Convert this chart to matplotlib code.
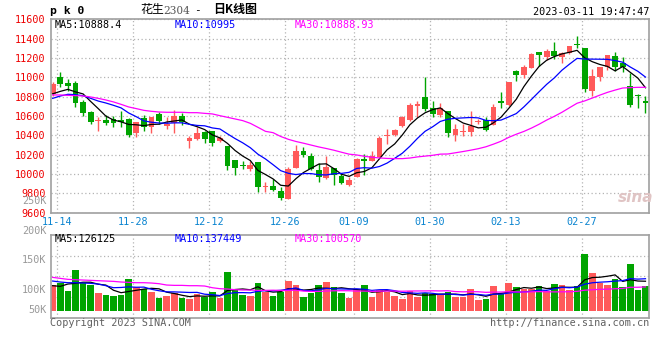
import numpy as np
import matplotlib
matplotlib.use('Agg')
import matplotlib.pyplot as plt

# daily bars, first = 11-14, last = 03-10
opens = [10828, 11007, 10942, 10942, 10749, 10642, 10549, 10563, 10566, 10560,
         10566, 10429, 10580, 10491, 10625, 10501, 10525, 10601, 10346, 10363,
         10439, 10446, 10339, 10291, 10146, 10091, 10050, 10125, 9864, 9877,
         9822, 9743, 10060, 10243, 10191, 10043, 9960, 10063, 9977, 9891,
         9967, 10153, 10139, 10181, 10391, 10408, 10501, 10560, 10708, 10801,
         10684, 10615, 10649, 10408, 10432, 10432, 10539, 10560, 10508, 10752,
         10718, 11062, 11028, 11097, 11259, 11207, 11269, 11214, 11252, 11345,
         11304, 10856, 11007, 11111, 11217, 11149, 10911, 10814, 10752]
highs = [10952, 11056, 10983, 10966, 10766, 10649, 10587, 10611, 10604, 10649,
         10580, 10542, 10608, 10594, 10642, 10587, 10663, 10628, 10398, 10484,
         10449, 10446, 10398, 10291, 10146, 10139, 10139, 10125, 9915, 9950,
         9870, 10070, 10301, 10277, 10215, 10112, 10191, 10063, 10002, 9967,
         10167, 10208, 10243, 10398, 10467, 10467, 10604, 10732, 10759, 11000,
         10752, 10732, 10649, 10518, 10518, 10649, 10570, 10587, 10725, 10845,
         10949, 11076, 11131, 11248, 11259, 11293, 11362, 11259, 11328, 11424,
         11304, 11087, 11111, 11235, 11266, 11207, 11049, 10828, 10811]
lows = [10811, 10897, 10856, 10690, 10604, 10518, 10449, 10508, 10484, 10491,
        10387, 10380, 10449, 10422, 10518, 10467, 10429, 10511, 10270, 10353,
        10318, 10294, 10329, 10046, 9995, 10053, 10036, 9812, 9812, 9829,
        9733, 9743, 10060, 10174, 10043, 9922, 9950, 9891, 9898, 9881,
        9967, 9995, 10132, 10181, 10311, 10398, 10484, 10553, 10587, 10656,
        10587, 10587, 10387, 10346, 10398, 10398, 10518, 10449, 10508, 10684,
        10708, 10966, 10994, 11097, 11121, 11180, 11190, 11145, 11242, 11304,
        10845, 10811, 10959, 11076, 11069, 11052, 10690, 10684, 10628]
closes = [10932, 10931, 10914, 10735, 10632, 10542, 10560, 10528, 10532, 10539,
          10408, 10542, 10484, 10594, 10553, 10518, 10597, 10535, 10373, 10429,
          10367, 10325, 10377, 10088, 10063, 10081, 10094, 9864, 9877, 9836,
          9753, 10053, 10243, 10198, 10053, 9967, 10070, 9995, 9908, 9943,
          10156, 10132, 10191, 10373, 10404, 10460, 10594, 10718, 10725, 10673,
          10622, 10684, 10422, 10467, 10446, 10501, 10553, 10456, 10697, 10739,
          10949, 11028, 11111, 11242, 11235, 11269, 11217, 11248, 11328, 11335,
          10880, 11018, 11104, 11228, 11104, 11104, 10718, 10804, 10732]
volume_k = [109.7, 119.7, 85.5, 173.9, 119.7, 109.7, 77.0, 67.0, 64.1, 67.0,
            135.4, 102.6, 92.6, 81.2, 55.6, 64.1, 74.1, 55.6, 51.3, 71.3,
            57.0, 81.2, 55.6, 166.7, 92.6, 68.4, 64.1, 119.7, 81.2, 64.1,
            78.4, 128.3, 109.7, 59.9, 77.0, 109.7, 124.0, 102.6, 77.0, 55.6,
            92.6, 109.7, 59.9, 88.4, 81.2, 64.1, 49.9, 84.1, 57.0, 77.0,
            71.3, 65.6, 81.2, 59.9, 59.9, 92.6, 45.6, 49.9, 105.5, 77.0,
            118.3, 101.2, 92.6, 91.2, 105.5, 82.7, 114.0, 109.7, 88.4, 105.5,
            242.3, 162.5, 116.9, 109.7, 134.0, 102.6, 199.5, 88.4, 105.5]

# moving averages at the left edge (they use days before the window)
ma5_head = [10830, 10855, 10876, 10850]
ma10_head = [10783, 10807, 10825, 10821, 10810, 10783, 10755, 10735, 10711]
ma30_head = [10818, 10818, 10814, 10811, 10808, 10797, 10783, 10766, 10746, 10721,
             10694, 10677, 10659, 10649, 10642, 10639, 10639, 10639, 10635, 10635,
             10628, 10622, 10604, 10587, 10570, 10553, 10525, 10484, 10442]
vma5_head = [106.9, 104.0, 114.0, 117.0]
vma10_head = [126.8, 122.6, 119.7, 119.7, 118.3, 116.9, 114.0, 106.9, 98.3]
vma30_head = [142.5, 138.2, 134.0, 132.5, 131.1, 129.7, 128.3, 126.8, 125.4, 122.6,
              121.1, 119.7, 119.7, 118.3, 115.4, 109.7, 108.3, 108.3, 106.9, 106.9,
              105.5, 98.3, 94.1, 92.6, 89.8, 88.4, 88.4, 86.9, 86.9]

date_labels = ['11-14', '11-28', '12-12', '12-26', '01-09', '01-30', '02-13', '02-27']
date_index = [0, 10, 20, 30, 39, 49, 59, 69]
price_ticks = [9600, 9800, 10000, 10200, 10400, 10600, 10800, 11000, 11200, 11400, 11600]
vol_labels = ['250K', '200K', '150K', '100K', '50K']


def moving_avg(vals, n, head):
    vals = np.asarray(vals, float)
    tail = np.convolve(vals, np.ones(n) / n, mode='valid')
    return np.concatenate([head, tail])


RED = '#ff5a5a'
GREEN = '#00a400'
GRID = '#b4b4b4'
MONO = 'DejaVu Sans Mono'
W, H = 660, 360

o = np.array(opens, float)
c = np.array(closes, float)
x = np.arange(len(c))
colors = np.where(c >= o, RED, GREEN)
vol = np.array(volume_k) * 1000

fig = plt.figure(figsize=(6.6, 3.6), dpi=100)
ax = fig.add_axes([50.7 / W, 1 - 213.3 / H, 598.6 / W, 194 / H])
axv = fig.add_axes([50.7 / W, 1 - 318 / H, 598.6 / W, 83.3 / H])

# candles
ax.vlines(x, lows, highs, colors=colors, lw=1)
ax.bar(x, np.maximum(np.abs(c - o), 9), bottom=np.minimum(o, c), width=0.75,
       color=colors, lw=0, zorder=2)
ax.plot(x, moving_avg(closes, 5, ma5_head), color='black', lw=0.9, zorder=3)
ax.plot(x, moving_avg(closes, 10, ma10_head), color='#0000ff', lw=0.9, zorder=3)
ax.plot(x, moving_avg(closes, 30, ma30_head), color='#ff00ff', lw=0.9, zorder=3)

ax.set_xlim(-0.26, 78.5)
ax.set_ylim(9595, 11600)
ax.set_yticks(price_ticks)
ax.set_xticks(np.array(date_index) + 0.6)
ax.set_xticklabels(date_labels)
ax.tick_params(length=0, labelsize=7.3, pad=3)
ax.tick_params(axis='y', labelcolor='#ee0000', pad=3.5)
ax.tick_params(axis='x', labelcolor='#0a84d0', pad=3)
for lab in ax.get_xticklabels() + ax.get_yticklabels():
    lab.set_family(MONO)
ax.grid(color=GRID, ls=(0, (1, 2)), lw=0.9)

# volume
axv.bar(x, vol, width=0.85, color=colors, lw=0)
axv.plot(x, moving_avg(volume_k, 5, vma5_head) * 1000, color='black', lw=0.9)
axv.plot(x, moving_avg(volume_k, 10, vma10_head) * 1000, color='#0000ff', lw=0.9)
axv.plot(x, moving_avg(volume_k, 30, vma30_head) * 1000, color='#ff00ff', lw=0.9)
axv.set_xlim(-0.26, 78.5)
vlo, vhi = -31200, 324900
axv.set_ylim(vlo, vhi)
axv.set_yticks([vlo + (vhi - vlo) * f for f in (0.25, 0.5, 0.75)])
axv.set_yticklabels([])
axv.set_xticks(np.array(date_index) + 0.6)
axv.set_xticklabels([])
axv.tick_params(length=0)
axv.grid(color=GRID, ls=(0, (1, 2)), lw=0.9)
for frac, lab in zip([1.408, 1.05, 0.693, 0.336, 0.096], vol_labels):
    axv.text(-0.007, frac, lab, transform=axv.transAxes, ha='right', va='center',
             family=MONO, fontsize=7.3, color='#999999', clip_on=False)

for a in (ax, axv):
    a.set_axisbelow(True)
    for s in a.spines.values():
        s.set_color('#a0a0a0')
        s.set_linewidth(1.2)

# legends
def txt(px, py, s, **kw):
    kw.setdefault('family', MONO)
    kw.setdefault('fontsize', 7.3)
    fig.text(px / W, 1 - py / H, s, va='center', **kw)

txt(55, 24.5, 'MA5:10888.4', color='black')
txt(175, 24.5, 'MA10:10995', color='#0000ff')
txt(295, 24.5, 'MA30:10888.93', color='#ff00ff')
txt(55, 238.5, 'MA5:126125', color='black')
txt(175, 238.5, 'MA10:137449', color='#0000ff')
txt(295, 238.5, 'MA30:100570', color='#ff00ff')

# header
txt(50.5, 10.5, 'p k 0', fontweight='bold', fontsize=8.2)
txt(140, 10, '花生', family=['Noto Sans CJK SC', 'DejaVu Sans'], fontsize=8.6)
txt(163.5, 10.5, '2304', family='DejaVu Serif', fontsize=7.6, color='#555555')
txt(194, 10, '-', fontsize=8)
txt(213, 10, '日K线图', family=['Noto Sans CJK SC', 'DejaVu Sans'], fontsize=8.6,
    fontweight='bold')
txt(649.3, 12, '2023-03-11 19:47:47', ha='right', color='black')

# footer
txt(50, 323.3, 'Copyright 2023 SINA.COM', color='#606060')
txt(649.3, 323.3, 'http://finance.sina.com.cn', ha='right', color='#606060')

# watermark
fig.text(636 / W, 1 - 197 / H, 'sina', ha='center', va='center', fontsize=11,
         fontweight='bold', style='italic', color='#e0c4c4')

fig.savefig('out.png', dpi=100)
